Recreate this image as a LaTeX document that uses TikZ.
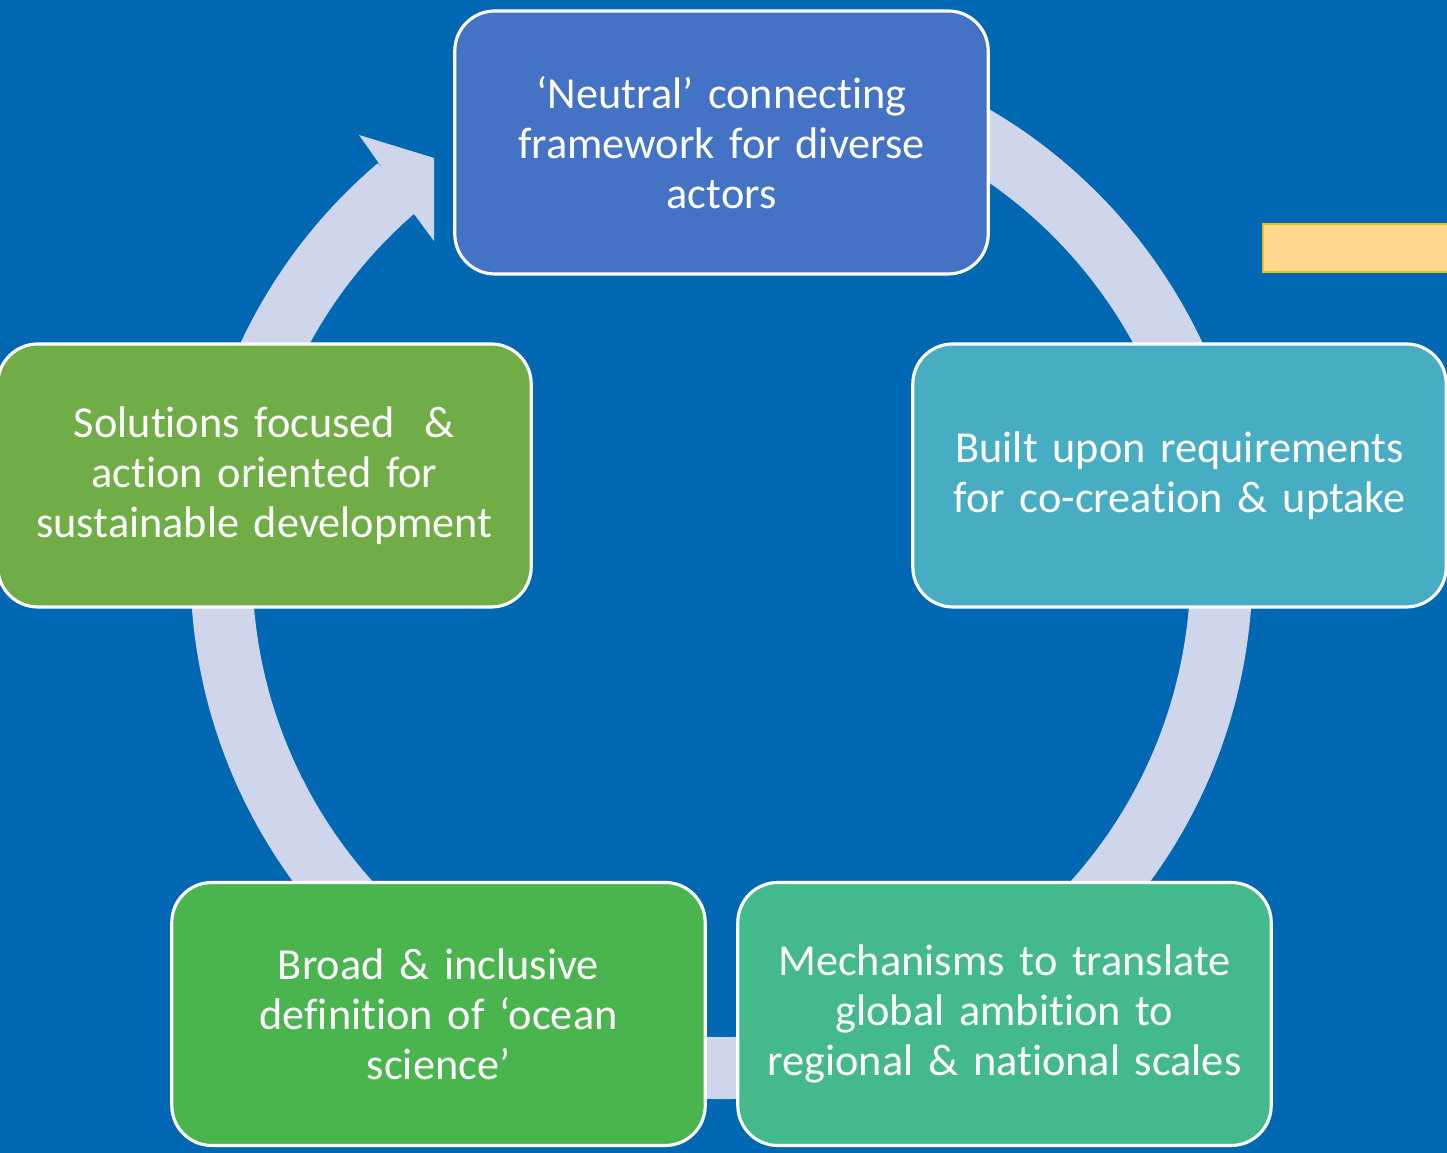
\documentclass[tikz,border=0pt]{standalone}
\usepackage{fontspec}
\setmainfont{Carlito}[Ligatures={NoCommon,NoRare,NoContextual}]
\usetikzlibrary{positioning}

\definecolor{bgblue}{HTML}{0068B2}
\definecolor{ringgray}{HTML}{CFD5EA}
\definecolor{boxa}{HTML}{4472C4}
\definecolor{boxb}{HTML}{46ADC2}
\definecolor{boxc}{HTML}{44BA8C}
\definecolor{boxd}{HTML}{4AB44F}
\definecolor{boxe}{HTML}{70AD47}
\definecolor{tagfill}{HTML}{FFD78F}
\definecolor{tagline}{HTML}{F2BC1B}

\begin{document}
\begin{tikzpicture}[
  cyclebox/.style={draw=white,line width=0.9pt,rounded corners=0.4cm,minimum width=5.28cm,minimum height=2.63cm,text width=5.1cm,align=center,text=white,font=\fontsize{12.6pt}{14.2pt}\selectfont}
]

\useasboundingbox (0,0) rectangle (14.47,11.53);
\clip (0,0) rectangle (14.47,11.53);
\fill[bgblue] (0,0) rectangle (14.47,11.53);

% ring with arrow
\coordinate (o) at (7.215,5.85);
\draw[ringgray,line width=0.62cm] ([shift={(80:5)}]o) arc[start angle=80,end angle=-229.7,radius=5];
\fill[ringgray] (3.78,9.91) -- (3.59,10.18) -- (4.34,9.95) -- (4.34,9.12) -- (4.14,9.39) -- cycle;

% tag at the right
\draw[tagline,fill=tagfill,line width=0.5pt] (12.63,8.81) rectangle (14.6,9.29);

\node[cyclebox,fill=boxa] (a) at (7.215,10.105) {‘Neutral’ connecting\\framework for diverse\\actors};
\node[cyclebox,fill=boxb] (b) at (11.795,6.775) {Built upon requirements\\for co-creation \& uptake};
\node[cyclebox,fill=boxc] (c) at (10.045,1.39) {Mechanisms to translate\\global ambition to\\regional \& national scales};
\node[cyclebox,fill=boxd] (d) at (4.385,1.39) {Broad \& inclusive\\definition of ‘ocean\\science’};
\node[cyclebox,fill=boxe] (e) at (2.645,6.775) {Solutions focused \ \&\\action oriented for\\sustainable development};

\end{tikzpicture}
\end{document}
